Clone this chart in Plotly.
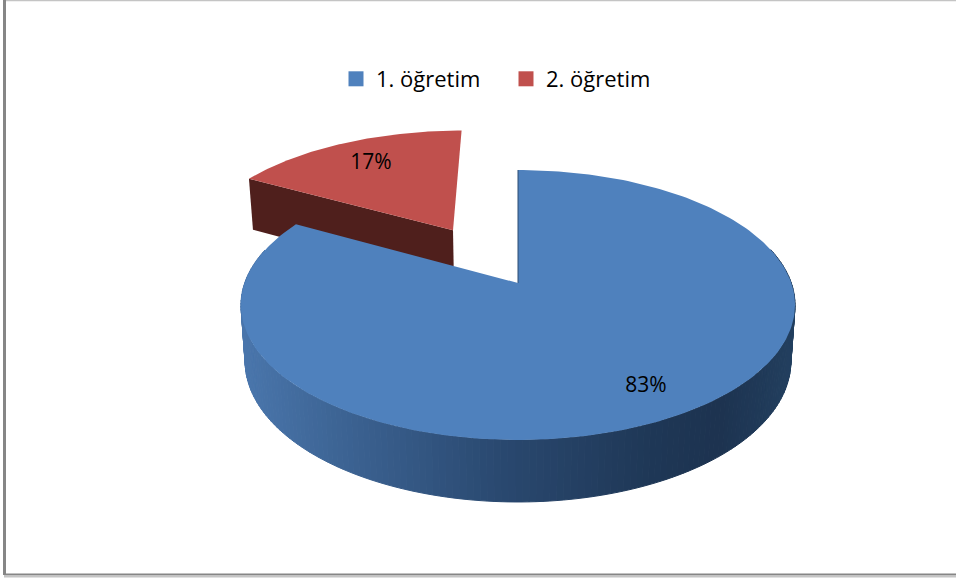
import numpy as np
import plotly.graph_objects as go

# ---- data ----
categories = ["1. öğretim", "2. öğretim"]
shares = [83, 17]
explode = [0.0, 0.5]
label_radius = [0.815, 0.74]
top_colors = ["#4f81bd", "#c0504d"]
wall_colors = ["#1f3857", "#4f1f1c"]
side_stops_x = [243, 340, 500, 650, 720, 797]
side_stops_rgb = [(74, 118, 172), (61, 100, 148), (42, 73, 112), (31, 56, 87), (29, 51, 80), (35, 64, 96)]

# ---- projection of the pie disc (perspective view) ----
X0, Y0, A, B, K = 518.0, 283.0, 273.3, 131.4, 0.163


def project(u, v):
    s = 1.0 / (1.0 + K * np.asarray(v, float))
    return X0 + A * np.asarray(u, float) * s, Y0 - B * np.asarray(v, float) * s, s


def lower(x, y, s):
    # rim of the underside of the disc
    return X0 + (x - X0) * 0.985, y + 21.6 + 33.8 * s


def sector(a0, a1, off, n=120):
    t = np.radians(np.linspace(a0, a1, n))
    d = np.radians((a0 + a1) / 2)
    ou, ov = off * np.sin(d), off * np.cos(d)
    return ou + np.sin(t), ov + np.cos(t), ou, ov


fig = go.Figure()
edges = np.concatenate([[0], np.cumsum(shares)]) * 360.0 / sum(shares)


def poly(x, y, color, name=None, line=0):
    fig.add_trace(go.Scatter(
        x=list(x), y=list(y), mode="lines", fill="toself", fillcolor=color,
        line=dict(color=color, width=line), hoverinfo="skip" if name is None else "text",
        text=name, showlegend=False))


# exploded slice first (it sits behind)
u, v, ou, ov = sector(edges[1], edges[2], explode[1])
x, y, s = project(u, v)
ax, ay, asc = project([ou], [ov])
lx, ly = lower(x[0], y[0], s[0])
bx, by = lower(ax[0], ay[0], asc[0])
poly([x[0], ax[0], bx, lx, x[0]], [y[0], ay[0], by, ly, y[0]], wall_colors[1])
poly(np.r_[ax, x, ax], np.r_[ay, y, ay], top_colors[1], categories[1])

# main slice: shaded rim, then the top face
u, v, ou, ov = sector(edges[0], edges[1], explode[0], n=241)
x, y, s = project(u, v)
lx, ly = lower(x, y, s)
for i in range(len(x) - 1):
    mid = (x[i] + x[i + 1]) / 2
    if v[i] > 0.25 and v[i + 1] > 0.25:
        continue
    rgb = [np.interp(mid, side_stops_x, [c[j] for c in side_stops_rgb]) for j in range(3)]
    col = "rgb(%d,%d,%d)" % tuple(rgb)
    poly([x[i], x[i + 1], lx[i + 1], lx[i], x[i]], [y[i], y[i + 1], ly[i + 1], ly[i], y[i]], col, line=1)
ax, ay, _ = project([ou], [ov])
poly(np.r_[ax, x, ax], np.r_[ay, y, ay], top_colors[0], categories[0])
fig.add_trace(go.Scatter(x=[x[0], ax[0]], y=[y[0], ay[0]], mode="lines", hoverinfo="skip", showlegend=False,
                         line=dict(color="#2c4d73", width=1)))

# percentage labels
lab_x, lab_y, lab_t = [], [], []
total = sum(shares)
for i, val in enumerate(shares):
    d = np.radians((edges[i] + edges[i + 1]) / 2)
    r = explode[i] + label_radius[i]
    px, py, _ = project([r * np.sin(d)], [r * np.cos(d)])
    lab_x.append(px[0])
    lab_y.append(py[0])
    lab_t.append(f"{round(100 * val / total)}%")
fig.add_trace(go.Scatter(x=lab_x, y=lab_y, text=lab_t, mode="text", hoverinfo="skip", showlegend=False,
                         textposition="middle center",
                         textfont=dict(family="Open Sans", size=21, color="#000000")))

# legend keys
for name, col in zip(categories, top_colors):
    fig.add_trace(go.Scatter(x=[None], y=[None], mode="markers", name=name,
                             marker=dict(symbol="square", size=15, color=col)))

frame = [
    dict(type="line", x0=4.5, x1=4.5, y0=0, y1=575, line=dict(color="#868686", width=3)),
    dict(type="line", x0=4, x1=956, y0=574.5, y1=574.5, line=dict(color="#868686", width=2)),
    dict(type="line", x0=4, x1=956, y0=576.5, y1=576.5, line=dict(color="#c4c4c4", width=2)),
    dict(type="line", x0=6, x1=956, y0=0.5, y1=0.5, line=dict(color="#c4c4c4", width=1.5)),
]

fig.update_layout(
    width=956, height=581, margin=dict(l=0, r=0, t=0, b=0),
    paper_bgcolor="#ffffff", plot_bgcolor="#ffffff",
    xaxis=dict(range=[0, 956], visible=False, fixedrange=True),
    yaxis=dict(range=[581, 0], visible=False, fixedrange=True),
    shapes=frame,
    legend=dict(orientation="h", x=336 / 956, y=1 - 58 / 581, xanchor="left", yanchor="top",
                font=dict(family="Open Sans", size=22, color="#000000"),
                bgcolor="rgba(0,0,0,0)", entrywidth=125, entrywidthmode="pixels", itemwidth=30),
)
fig.write_html("out.html", config=dict(displayModeBar=False),
               post_script="document.body.style.margin='0';document.documentElement.style.overflow='hidden';")
